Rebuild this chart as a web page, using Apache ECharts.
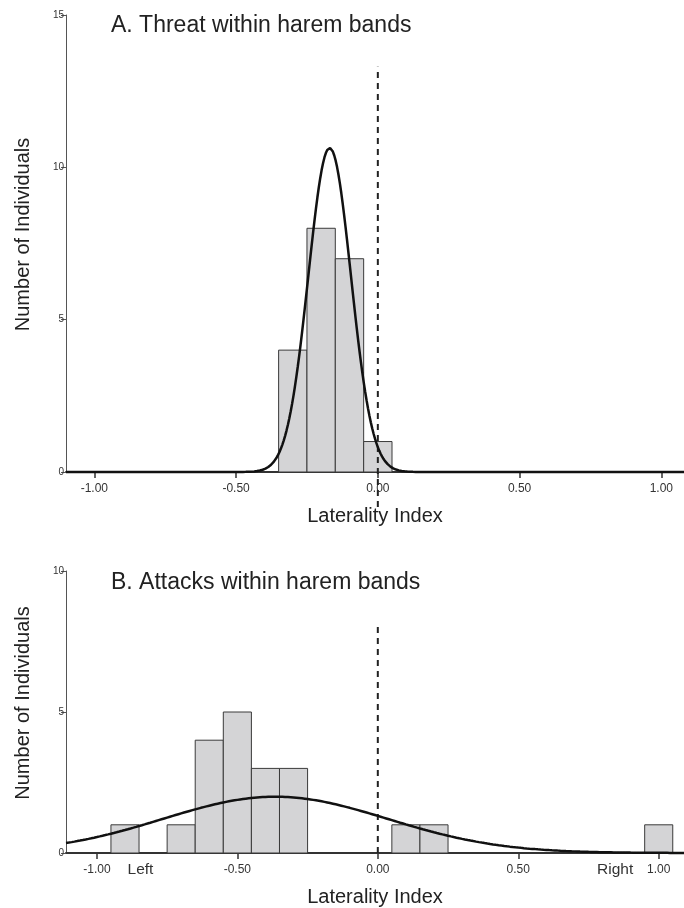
<!DOCTYPE html>
<html>
<head>
<meta charset="utf-8">
<script src="https://cdn.jsdelivr.net/npm/echarts@6/dist/echarts.min.js"></script>
<style>
  html, body { margin: 0; padding: 0; background: #fff; }
  #chart { width: 684px; height: 908px; }
</style>
</head>
<body>
<div id="chart"></div>
<script>
// Histogram bins (centre of each laterality-index bin) and counts per bin
const binWidth = 0.1;
const threatBins = [-0.3, -0.2, -0.1, 0.0];
const threatCounts = [4, 8, 7, 1];
const attackBins = [-0.9, -0.7, -0.6, -0.5, -0.4, -0.3, 0.1, 0.2, 1.0];
const attackCounts = [1, 1, 4, 5, 3, 3, 1, 1, 1];

// Normal curves fitted to each distribution
const threatFit = { mean: -0.17, sd: 0.075 };
const attackFit = { mean: -0.365, sd: 0.40 };

// Zero-laterality reference line: [bottom, top] in counts
const threatZeroLine = [-1.15, 13.3];
const attackZeroLine = [0, 8.15];

// Axis tick values and labels
const xTickValues = [-1, -0.5, 0, 0.5, 1];
const sideLabelValues = [-0.845, 0.845];
const sideLabelText = ['Left', 'Right'];
const threatYTicks = { max: 15, step: 5 };
const attackYTicks = { max: 10, step: 5 };
const titles = ['A. Threat within harem bands', 'B. Attacks within harem bands'];

const FONT = '"Liberation Sans", Arial, Helvetica, sans-serif';
const INK = '#222';

function normalCurve(fit, counts, xmin, xmax) {
  const n = counts.reduce((a, b) => a + b, 0);
  const scale = n * binWidth / (fit.sd * Math.sqrt(2 * Math.PI));
  const pts = [];
  const steps = 440;
  for (let i = 0; i <= steps; i++) {
    const x = xmin + (xmax - xmin) * i / steps;
    const z = (x - fit.mean) / fit.sd;
    pts.push([x, scale * Math.exp(-0.5 * z * z)]);
  }
  return pts;
}

function histItem(params, api) {
  const c = api.value(0), n = api.value(1);
  const p0 = api.coord([c - binWidth / 2, n]);
  const p1 = api.coord([c + binWidth / 2, 0]);
  return {
    type: 'rect',
    shape: { x: p0[0], y: p0[1], width: p1[0] - p0[0], height: p1[1] - p0[1] },
    style: { fill: '#d4d4d6', stroke: '#3a3a3a', lineWidth: 1 }
  };
}

function xAxisOf(gridIndex, min, max, withSides) {
  const labelValues = withSides ? xTickValues.concat(sideLabelValues) : xTickValues;
  return {
    type: 'value', gridIndex, min, max,
    name: 'Laterality Index', nameLocation: 'middle', nameGap: 34,
    nameTextStyle: { fontFamily: FONT, fontSize: 20, color: INK },
    axisLine: { show: true, onZero: false, lineStyle: { color: '#333', width: 2 } },
    axisTick: { show: true, customValues: xTickValues, length: 6, lineStyle: { color: '#333', width: 1.5 } },
    axisLabel: {
      customValues: labelValues, margin: 9, fontFamily: FONT, fontSize: 12, color: '#333',
      lineHeight: 16,
      formatter: v => {
        const k = sideLabelValues.findIndex(s => Math.abs(s - v) < 1e-9);
        if (withSides && k >= 0) return '{side|' + sideLabelText[k] + '}';
        return v.toFixed(2);
      },
      rich: { side: { fontFamily: FONT, fontSize: 15.5, color: '#333', lineHeight: 16 } }
    },
    splitLine: { show: false }
  };
}

function yAxisOf(gridIndex, ticks) {
  return {
    type: 'value', gridIndex, min: 0, max: ticks.max, interval: ticks.step,
    name: 'Number of Individuals', nameLocation: 'middle', nameGap: 33,
    nameTextStyle: { fontFamily: FONT, fontSize: 20, color: INK, padding: [0, 0, 0, 18] },
    axisLine: { show: true, onZero: false, lineStyle: { color: '#555', width: 1 } },
    axisTick: { show: true, length: 5, lineStyle: { color: '#555', width: 1 } },
    axisLabel: { margin: 2, fontFamily: FONT, fontSize: 10, color: '#333' },
    splitLine: { show: false }
  };
}

function zeroLine(axisIndex, span) {
  return {
    type: 'line', xAxisIndex: axisIndex, yAxisIndex: axisIndex, showSymbol: false, clip: false,
    silent: true, z: 3,
    data: [[0, span[0]], [0, span[1]]],
    lineStyle: { color: '#222', width: 2, type: [6, 5] }
  };
}

const topRange = [-1.1, 1.08];
const botRange = [-1.11, 1.09];

const option = {
  animation: false,
  backgroundColor: '#fff',
  title: [
    { text: titles[0], left: 106, top: 9, textStyle: { fontFamily: FONT, fontSize: 23, fontWeight: 'normal', color: INK } },
    { text: titles[1], left: 106, top: 566, textStyle: { fontFamily: FONT, fontSize: 23, fontWeight: 'normal', color: INK } }
  ],
  grid: [
    { left: 66, right: 0, top: 15, height: 457 },
    { left: 66, right: 0, top: 571, height: 282 }
  ],
  xAxis: [xAxisOf(0, topRange[0], topRange[1], false), xAxisOf(1, botRange[0], botRange[1], true)],
  yAxis: [yAxisOf(0, threatYTicks), yAxisOf(1, attackYTicks)],
  series: [
    {
      type: 'custom', xAxisIndex: 0, yAxisIndex: 0, renderItem: histItem,
      data: threatBins.map((b, i) => [b, threatCounts[i]])
    },
    zeroLine(0, threatZeroLine),
    {
      type: 'line', xAxisIndex: 0, yAxisIndex: 0, showSymbol: false, clip: false, z: 4,
      data: normalCurve(threatFit, threatCounts, topRange[0], topRange[1]),
      lineStyle: { color: '#111', width: 2.5 }
    },
    {
      type: 'custom', xAxisIndex: 1, yAxisIndex: 1, renderItem: histItem,
      data: attackBins.map((b, i) => [b, attackCounts[i]])
    },
    zeroLine(1, attackZeroLine),
    {
      type: 'line', xAxisIndex: 1, yAxisIndex: 1, showSymbol: false, clip: false, z: 4,
      data: normalCurve(attackFit, attackCounts, botRange[0], botRange[1]),
      lineStyle: { color: '#111', width: 2.5 }
    }
  ]
};

const chart = echarts.init(document.getElementById('chart'), null, { renderer: 'canvas' });
chart.setOption(option);
</script>
</body>
</html>
